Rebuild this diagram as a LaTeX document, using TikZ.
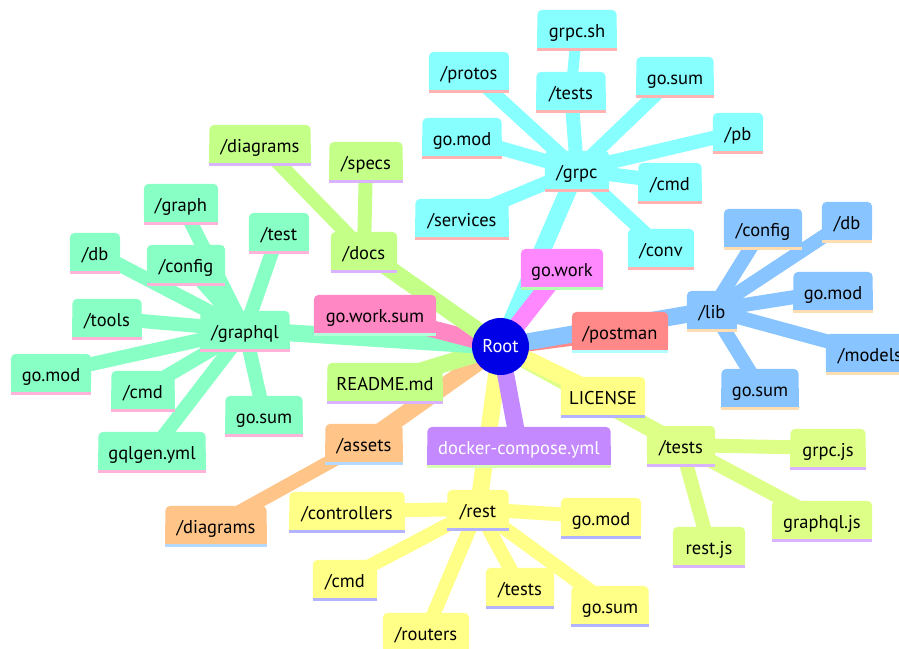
\documentclass[tikz,border=0pt]{standalone}
\usepackage{fontspec}
\setmainfont{PT Sans}
\pgfdeclarelayer{bg}
\pgfdeclarelayer{edges}
\pgfdeclarelayer{boxes}
\pgfsetlayers{bg,edges,boxes,main}

% section colours (box fill / underline)
\definecolor{ccyan}{HTML}{88FFFF}   \definecolor{lcyan}{HTML}{FFB3B3}
\definecolor{cmag}{HTML}{FF88FF}    \definecolor{lmag}{HTML}{B3FFB3}
\definecolor{cblue}{HTML}{88C4FF}   \definecolor{lblue}{HTML}{FFDDB3}
\definecolor{cred}{HTML}{FF8888}    \definecolor{lred}{HTML}{B3FFFF}
\definecolor{cyel}{HTML}{FFFF88}    \definecolor{lyel}{HTML}{B3B3FF}
\definecolor{ctest}{HTML}{DDFF88}   \definecolor{ltest}{HTML}{D9B3FF}
\definecolor{cpurple}{HTML}{C488FF} \definecolor{lpurple}{HTML}{D9FFB3}
\definecolor{corange}{HTML}{FFC488} \definecolor{lorange}{HTML}{B3D9FF}
\definecolor{cdocs}{HTML}{C4FF88}   \definecolor{ldocs}{HTML}{D9B3FF}
\definecolor{cpink}{HTML}{FF88C4}   \definecolor{lpink}{HTML}{B3FFD9}
\definecolor{cgreen}{HTML}{88FFC4}  \definecolor{lgreen}{HTML}{FFB3D9}
\definecolor{rootblue}{HTML}{0000E6}

\tikzset{
  mmtext/.style={inner sep=0pt, minimum height=38pt, text height=21pt, text depth=4pt,
                 font=\fontsize{18.5}{22}\selectfont},
  e0/.style={line width=17pt},
  e1/.style={line width=14pt},
  e2/.style={line width=11pt},
}

% \mm{name}{x}{y}{width}{fill}{underline}{text}
\newcommand\mm[7]{%
  \node[mmtext, minimum width=#4pt] (#1) at (#2,#3) {#7};
  \begin{pgfonlayer}{boxes}
    \fill[#5, rounded corners=5pt] (#1.south west) rectangle (#1.north east);
    \fill[#5] (#1.west) rectangle (#1.south east);
    \fill[#6] (#1.south west) rectangle ([yshift=-3pt]#1.south east);
  \end{pgfonlayer}}

\begin{document}
\begin{tikzpicture}[x=1pt,y=-1pt]
\begin{pgfonlayer}{bg}
  \fill[white] (0,0) rectangle (899,648);
\end{pgfonlayer}
\useasboundingbox (0,0) rectangle (899,648);

\node[circle, fill=rootblue, minimum size=57pt, inner sep=0pt, text=white,
      font=\fontsize{18.5}{22}\selectfont] (root) at (500.5,346.5) {Root};

% grpc
\mm{grpc}{577}{170}{64}{ccyan}{lcyan}{/grpc}
\mm{grpcsh}{577}{29}{79}{ccyan}{lcyan}{grpc.sh}
\mm{gtests}{571}{91}{69}{ccyan}{lcyan}{/tests}
\mm{protos}{469}{71}{80}{ccyan}{lcyan}{/protos}
\mm{gsum}{675}{76}{77}{ccyan}{lcyan}{go.sum}
\mm{pb}{738}{132}{50}{ccyan}{lcyan}{/pb}
\mm{gmod}{462}{137}{79}{ccyan}{lcyan}{go.mod}
\mm{gcmd}{670}{182}{63}{ccyan}{lcyan}{/cmd}
\mm{services}{462}{218}{93}{ccyan}{lcyan}{/services}
\mm{conv}{661}{248}{66}{ccyan}{lcyan}{/conv}

\mm{gowork}{562}{268}{82}{cmag}{lmag}{go.work}

% lib
\mm{lib}{712}{310}{50}{cblue}{lblue}{/lib}
\mm{lconfig}{763}{228}{78}{cblue}{lblue}{/config}
\mm{ldb}{847}{221}{50}{cblue}{lblue}{/db}
\mm{lmod}{833}{291}{79}{cblue}{lblue}{go.mod}
\mm{lmodels}{870}{353}{88}{cblue}{lblue}{/models}
\mm{lsum}{760}{388}{77}{cblue}{lblue}{go.sum}

\mm{postman}{620}{331}{96}{cred}{lred}{/postman}
\mm{license}{603}{396}{84}{cyel}{lyel}{LICENSE}

% tests
\mm{ttests}{681}{445}{68}{ctest}{ltest}{/tests}
\mm{grpcjs}{828}{448}{75}{ctest}{ltest}{grpc.js}
\mm{graphqljs}{822}{520}{100}{ctest}{ltest}{graphql.js}
\mm{restjs}{709}{546}{72}{ctest}{ltest}{rest.js}

\mm{docker}{519}{446}{183}{cpurple}{lpurple}{\color{white}docker-compose.yml}

% rest
\mm{rest}{478}{509}{61}{cyel}{lyel}{/rest}
\mm{rmod}{601}{517}{80}{cyel}{lyel}{go.mod}
\mm{rtests}{520}{587}{68}{cyel}{lyel}{/tests}
\mm{rsum}{610}{605}{77}{cyel}{lyel}{go.sum}
\mm{controllers}{347}{511}{115}{cyel}{lyel}{/controllers}
\mm{rcmd}{345}{579}{64}{cyel}{lyel}{/cmd}
\mm{routers}{426}{632}{86}{cyel}{lyel}{/routers}

% assets
\mm{assets}{364}{443}{77}{corange}{lorange}{/assets}
\mm{adiagrams}{216}{525}{101}{corange}{lorange}{/diagrams}

\mm{readme}{385}{382}{115}{cdocs}{ldocs}{README.md}
\mm{goworksum}{375}{314}{122}{cpink}{lpink}{go.work.sum}

% graphql
\mm{graphql}{245}{330}{89}{cgreen}{lgreen}{/graphql}
\mm{graph}{181}{203}{74}{cgreen}{lgreen}{/graph}
\mm{test}{279}{232}{60}{cgreen}{lgreen}{/test}
\mm{qdb}{95}{252}{50}{cgreen}{lgreen}{/db}
\mm{qconfig}{186}{264}{78}{cgreen}{lgreen}{/config}
\mm{tools}{107}{318}{69}{cgreen}{lgreen}{/tools}
\mm{qmod}{51}{373}{80}{cgreen}{lgreen}{go.mod}
\mm{qcmd}{143}{390}{63}{cgreen}{lgreen}{/cmd}
\mm{qsum}{264}{415}{77}{cgreen}{lgreen}{go.sum}
\mm{gqlgen}{152}{451}{107}{cgreen}{lgreen}{gqlgen.yml}

% docs
\mm{docs}{364}{251}{66}{cdocs}{ldocs}{/docs}
\mm{ddiagrams}{260}{144}{101}{cdocs}{ldocs}{/diagrams}
\mm{specs}{366}{161}{73}{cdocs}{ldocs}{/specs}

\begin{pgfonlayer}{edges}
  % branches from the root
  \draw[e0, ccyan]   (root.center) -- (grpc.center);
  \draw[e0, cmag]    (root.center) -- (gowork.center);
  \draw[e0, cred]    (root.center) -- (postman.center);
  \draw[e0, cblue]   (root.center) -- (lib.center);
  \draw[e0, ctest]   (root.center) -- (ttests.center);
  \draw[e0, cyel]    (root.center) -- (license.center);
  \draw[e0, cyel]    (root.center) -- (rest.center);
  \draw[e0, cpurple] (root.center) -- (docker.center);
  \draw[e0, corange] (root.center) -- (assets.center);
  \draw[e0, cdocs]   (root.center) -- (readme.center);
  \draw[e0, cgreen]  (root.center) -- (graphql.center);
  \draw[e0, cpink]   (root.center) -- (goworksum.center);
  \draw[e0, cdocs]   (root.center) -- (docs.center);
  % grpc
  \foreach \n in {gtests,protos,gsum,pb,gmod,gcmd,services,conv}
    \draw[e1, ccyan] (grpc.center) -- (\n.center);
  \draw[e2, ccyan] (gtests.center) -- (grpcsh.center);
  % lib
  \foreach \n in {lconfig,ldb,lmod,lmodels,lsum}
    \draw[e1, cblue] (lib.center) -- (\n.center);
  % tests
  \foreach \n in {grpcjs,graphqljs,restjs}
    \draw[e1, ctest] (ttests.center) -- (\n.center);
  % rest
  \foreach \n in {rmod,rtests,rsum,controllers,rcmd,routers}
    \draw[e1, cyel] (rest.center) -- (\n.center);
  % assets
  \draw[e1, corange] (assets.center) -- (adiagrams.center);
  % graphql
  \foreach \n in {graph,test,qdb,qconfig,tools,qmod,qcmd,qsum,gqlgen}
    \draw[e1, cgreen] (graphql.center) -- (\n.center);
  % docs
  \foreach \n in {ddiagrams,specs}
    \draw[e1, cdocs] (docs.center) -- (\n.center);
\end{pgfonlayer}
\end{tikzpicture}
\end{document}
